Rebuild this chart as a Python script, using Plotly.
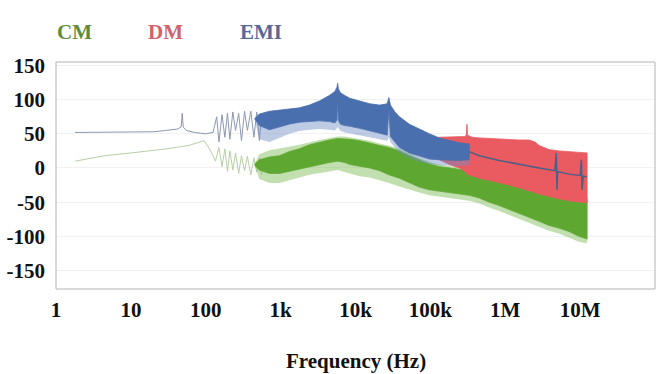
import plotly.graph_objects as go

# ---------------- data ----------------
# EMI: thin low-frequency trace (Hz, dB)
emi_lf_freq = [1.8, 5, 10, 20, 30, 42, 47, 48.5, 50, 55, 70, 100, 125, 140, 150, 165, 180, 195,
               210, 230, 250, 275, 300, 330, 360, 400, 440, 480, 520, 560]
emi_lf_val = [52, 52, 53, 53, 55, 57, 60, 80, 60, 55, 52, 50, 52, 75, 38, 78, 45, 80,
              42, 82, 55, 80, 40, 83, 55, 83, 45, 82, 40, 80]

# CM: thin low-frequency trace
cm_lf_freq = [1.8, 4.5, 10, 30, 60, 85, 95, 105, 120, 135, 150, 165, 180, 195, 210, 230,
              250, 275, 300, 330, 360, 400, 440, 480, 520, 560]
cm_lf_val = [10, 18, 22, 28, 33, 38, 40, 33, 22, 10, 30, 2, 28, -5, 25, -3,
             22, -8, 18, -4, 17, -10, 15, -6, 14, -10]

# EMI dense band (envelopes)
emi_band_freq = [450, 520, 710, 965, 1310, 1780, 2420, 3290, 4460, 5300, 5650, 5780, 5900,
                 6300, 7200, 8400, 11400, 15500, 21000, 26500, 27900, 29300, 33600, 38600,
                 52500, 71000, 97000, 132000, 180000, 244000, 331000]
emi_band_upper = [72, 79, 83, 85, 86, 88, 92, 98, 106, 112, 118, 124, 116,
                  110, 106, 102, 98, 94, 92, 94, 103, 92, 82, 75,
                  64, 57, 50, 44, 40, 37, 35]
emi_band_lower = [72, 62, 56, 60, 64, 67, 68, 69, 68, 66, 70, 100, 70,
                  64, 62, 61, 58, 55, 51, 48, 85, 46, 38, 30,
                  22, 17, 13, 12, 11, 11, 12]
# extent of the thin downward spikes under the EMI band
emi_spike_low = [72, 42, 38, 44, 50, 54, 56, 57, 56, 55, 58, 60, 58,
                 54, 52, 50, 48, 45, 42, 40, 45, 38, 30, 22,
                 14, 9, 6, 4, 3, 3, 4]

# EMI thin trace above 300 kHz
emi_hf_freq = [331000, 450000, 830000, 1530000, 2830000, 4600000, 4800000, 4900000, 5000000,
               5300000, 7100000, 10000000, 10400000, 10600000, 11000000, 12400000]
emi_hf_val = [24, 18, 11, 5, 0, -4, 22, -32, -5, -6, -9, -11, 12, -32, -12, -13]

# CM dense band
cm_band_freq = [450, 520, 710, 965, 1310, 1780, 2420, 3290, 4460, 5780, 7200, 8400, 11400,
                15500, 21000, 28000, 38600, 52500, 71000, 97000, 132000, 180000, 244000,
                331000, 450000, 611000, 830000, 1130000, 1530000, 2080000, 2830000,
                3840000, 5200000, 7100000, 9600000, 12400000]
cm_band_upper = [6, 12, 16, 18, 24, 28, 34, 38, 41, 43, 43, 42, 40,
                 37, 33, 30, 25, 18, 12, 6, 2, 0, -2,
                 -4, -8, -10, -13, -16, -18, -22, -26,
                 -30, -35, -38, -42, -45]
cm_band_lower = [4, -3, -8, -8, -5, -2, 2, 5, 8, 10, 8, 5, 2,
                 0, -4, -10, -15, -22, -28, -32, -35, -36, -38,
                 -40, -44, -50, -55, -60, -66, -72, -78,
                 -84, -88, -93, -100, -104]
# extent of the thin spikes around the CM band
cm_spike_low = [4, -16, -22, -22, -18, -14, -10, -7, -5, -3, -5, -8, -12,
                -14, -18, -22, -27, -32, -36, -40, -42, -44, -46,
                -48, -52, -58, -63, -68, -74, -80, -86,
                -92, -96, -102, -108, -110]
cm_spike_up = [6, 20, 26, 28, 31, 34, 38, 41, 44, 46, 46, 45, 43,
               40, 36, 33, 28, 21, 15, 9, 5, 3, 1,
               -1, -5, -7, -10, -13, -15, -19, -23,
               -27, -32, -35, -39, -42]

# DM dense band
dm_band_freq = [80000, 97000, 132000, 180000, 244000, 295000, 303000, 308000, 314000, 360000,
                450000, 611000, 830000, 1130000, 1530000, 2080000, 2500000, 2830000,
                3840000, 5200000, 7100000, 9600000, 12400000]
dm_band_upper = [30, 42, 45, 45, 46, 46, 50, 64, 48, 45,
                 44, 43, 42, 41, 41, 41, 38, 33,
                 27, 25, 24, 23, 22]
dm_band_lower = [22, 18, 12, 5, 0, -6, -8, -9, -10, -12,
                 -15, -18, -21, -25, -29, -33, -36, -38,
                 -42, -45, -48, -50, -51]

x_tickvals = [1, 10, 100, 1e3, 1e4, 1e5, 1e6, 1e7]
x_ticktext = ["1", "10", "100", "1k", "10k", "100k", "1M", "10M"]
y_tickvals = [150, 100, 50, 0, -50, -100, -150]
y_ticktext = ["150", "100", "50", "0", "-50", "-100", "-150"]

legend_names = ["CM", "DM", "EMI"]
legend_colors = ["#5f8c3c", "#d0646a", "#56699a"]

# ---------------- figure ----------------
GREEN = "#5ea832"
RED = "#e95b60"
BLUE = "#4a6fae"
FONT = "Liberation Serif"
W, H = 656, 374
ML, MR, MT, MB = 56, 1, 62, 85
PW, PH = W - ML - MR, H - MT - MB

fig = go.Figure()


def band(freq, upper, lower, color, lw=0.8):
    fig.add_trace(go.Scatter(
        x=list(freq) + list(freq[::-1]),
        y=list(upper) + list(lower[::-1]),
        fill="toself", fillcolor=color, mode="lines",
        line=dict(color=color, width=lw), hoverinfo="skip", showlegend=False))


fig.add_trace(go.Scatter(x=cm_lf_freq, y=cm_lf_val, mode="lines",
                         line=dict(color="#b9cfa6", width=1), showlegend=False))
fig.add_trace(go.Scatter(x=emi_lf_freq, y=emi_lf_val, mode="lines",
                         line=dict(color="#8c97b0", width=1), showlegend=False))
band(cm_band_freq, cm_spike_up, cm_spike_low, "rgba(120,185,80,0.45)", 0)
band(cm_band_freq, cm_band_upper, cm_band_lower, GREEN)
band(dm_band_freq, dm_band_upper, dm_band_lower, RED)
band(emi_band_freq, emi_band_lower, emi_spike_low, "rgba(110,140,195,0.45)", 0)
band(emi_band_freq, emi_band_upper, emi_band_lower, BLUE)
fig.add_trace(go.Scatter(x=emi_hf_freq, y=emi_hf_val, mode="lines",
                         line=dict(color="#4d5f86", width=1.5), showlegend=False))

# legend as coloured text (pixel positions converted to paper coords)
legend_px = [74, 165, 261]
annotations = []
for name, col, px in zip(legend_names, legend_colors, legend_px):
    annotations.append(dict(text=name, x=(px - ML) / PW, y=(H - MB - 32) / PH,
                            xref="paper", yref="paper", xanchor="center", yanchor="middle",
                            showarrow=False,
                            font=dict(family=FONT, size=21, color=col, weight="bold")))
annotations.append(dict(text="Frequency (Hz)", x=0.5, y=-(361 - (H - MB)) / PH, xref="paper",
                        yref="paper", xanchor="center", yanchor="middle", showarrow=False,
                        font=dict(family=FONT, size=21, color="#111111", weight="bold")))

fig.update_layout(
    width=W, height=H,
    margin=dict(l=ML, r=MR, t=MT, b=MB),
    paper_bgcolor="white", plot_bgcolor="white",
    showlegend=False,
    annotations=annotations,
    shapes=[dict(type="rect", xref="paper", yref="paper", x0=0, x1=1, y0=0, y1=1,
                 line=dict(color="#b3b3b3", width=1), fillcolor="rgba(0,0,0,0)",
                 layer="above")],
    xaxis=dict(type="log", range=[0, 8], tickvals=x_tickvals, ticktext=x_ticktext,
               showgrid=False, zeroline=False, showline=False, ticks="",
               tickfont=dict(family=FONT, size=21, color="#111111", weight="bold"),
               ticklabelstandoff=6),
    yaxis=dict(range=[-177.1, 155.1], tickvals=y_tickvals, ticktext=y_ticktext,
               showgrid=True, gridcolor="#f1f1f1", gridwidth=1, zeroline=False,
               showline=False, ticks="",
               tickfont=dict(family=FONT, size=21, color="#111111", weight="bold"),
               ticklabelstandoff=10),
)

fig.write_html("out.html")
